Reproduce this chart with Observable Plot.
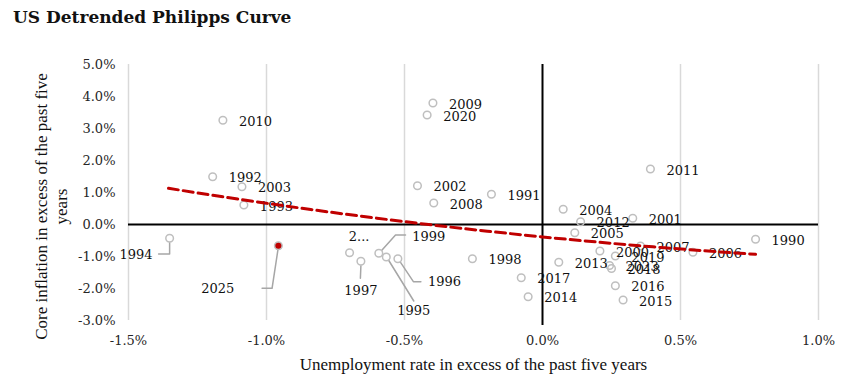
<!DOCTYPE html>
<html><head><meta charset="utf-8">
<script src="https://cdn.jsdelivr.net/npm/d3@7"></script>
<script src="https://cdn.jsdelivr.net/npm/@observablehq/plot@0.6"></script>
<style>
body{margin:0;background:#fff;}
#title{height:34px;font-family:"DejaVu Serif",serif;font-weight:bold;font-size:17px;line-height:34px;padding-left:13px;color:#111;white-space:nowrap;}
</style></head><body>
<div id="title">US Detrended Philipps Curve</div>
<div id="chart"></div>
<script>
// Data
const years = ["1990","1991","1992","1993","1994","1995","1996","1997","1998","1999",
  "2000","2001","2002","2003","2004","2005","2006","2007","2008","2009",
  "2010","2011","2012","2013","2014","2015","2016","2017","2018","2019",
  "2020","2023","2...","2025"];
const unemp = [0.772,-0.185,-1.195,-1.082,-1.351,-0.566,-0.524,-0.658,-0.254,-0.593,
  0.208,0.327,-0.453,-1.089,0.075,0.117,0.545,0.355,-0.394,-0.397,
  -1.158,0.391,0.138,0.059,-0.052,0.292,0.264,-0.077,0.250,0.264,
  -0.418,0.243,-0.699,-0.957];
const infl = [-0.463,0.944,1.494,0.609,-0.431,-1.016,-1.069,-1.150,-1.069,-0.900,
  -0.828,0.194,1.213,1.181,0.475,-0.256,-0.869,-0.672,0.672,3.797,
  3.256,1.734,0.088,-1.181,-2.256,-2.359,-1.913,-1.663,-1.375,-0.984,
  3.422,-1.281,-0.881,-0.663];
const highlight = "2025";
const trendX = [-1.355,-1.2,-1.0,-0.8,-0.6,-0.4,-0.2,0,0.2,0.4,0.6,0.772];
const trendY = [1.131,0.921,0.664,0.422,0.197,-0.014,-0.208,-0.387,-0.550,-0.698,-0.830,-0.931];
const xTicks = [-1.5,-1.0,-0.5,0,0.5,1.0];
const yTicks = [-3,-2,-1,0,1,2,3,4,5];
const xDomain = [-1.5, 1.0];
const yDomain = [-3, 5];

// Layout (pixel offsets of labels / leader lines relative to their point)
const W = 853, H = 351, mL = 128, mR = 35, mT = 30, mB = 65;
const kx = (W - mL - mR) / (xDomain[1] - xDomain[0]);
const ky = (H - mT - mB) / (yDomain[1] - yDomain[0]);
const defaultOffset = [16, 1.5];
const special = {
  "1994": {off: [-17, 16.7], anchor: "end", path: [[0, 4.5], [0, 15.7], [-11, 15.7]]},
  "2025": {off: [-44, 43.6], anchor: "end", path: [[-0.5, 4.5], [-6.3, 42.6], [-16.3, 42.6]]},
  "1997": {off: [0, 30], anchor: "middle", path: [[0, 4.5], [-0.5, 17]]},
  "1999": {off: [33.4, -16.6], anchor: "start", path: [[3, -3], [16.7, -18.3], [26.7, -18.3]]},
  "1995": {off: [27.5, 54], anchor: "middle", path: [[2.5, 3.5], [27.5, 44]]},
  "1996": {off: [30, 23], anchor: "start", path: [[2.5, 3.5], [15.5, 23], [23, 23]]},
  "2...": {off: [9.5, -15.7], anchor: "middle", path: []}
};

const pts = years.map((t, i) => ({t, x: unemp[i], y: infl[i]}));
const trend = trendX.map((x, i) => ({x, y: trendY[i]}));
const toData = (p, [dx, dy]) => ({x: p.x + dx / kx, y: p.y - dy / ky});

const labelRows = pts.map(p => {
  const s = special[p.t];
  const q = toData(p, s ? s.off : defaultOffset);
  return {t: p.t, x: q.x, y: q.y, anchor: s ? s.anchor : "start"};
});
const leaders = [];
pts.forEach(p => {
  const s = special[p.t];
  if (s) s.path.forEach(o => { const q = toData(p, o); leaders.push({t: p.t, x: q.x, y: q.y}); });
});

const fmt = d => d.toFixed(1) + "%";
const serif = "'DejaVu Serif', serif";
const serif2 = "'Liberation Serif', serif";

const chart = Plot.plot({
  width: W, height: H,
  marginLeft: mL, marginRight: mR, marginTop: mT, marginBottom: mB,
  style: {fontFamily: serif, fontSize: "13px", background: "#fff", color: "#1a1a1a", overflow: "visible"},
  x: {domain: xDomain},
  y: {domain: yDomain},
  marks: [
    Plot.ruleX(xTicks.filter(d => d !== 0), {stroke: "#d9d9d9", strokeWidth: 1.5}),
    Plot.ruleY([0], {stroke: "#000", strokeWidth: 2}),
    Plot.ruleX([0], {stroke: "#000", strokeWidth: 2, insetBottom: -5}),
    Plot.line(leaders, {x: "x", y: "y", z: "t", stroke: "#a6a6a6", strokeWidth: 1.5}),
    Plot.dot(pts.filter(p => p.t !== highlight), {x: "x", y: "y", r: 3.8, stroke: "#bfbfbf", strokeWidth: 1.5, fill: "none"}),
    Plot.dot(pts.filter(p => p.t === highlight), {x: "x", y: "y", r: 3.8, stroke: "#bfbfbf", strokeWidth: 1.5, fill: "#c00000"}),
    ...["start", "middle", "end"].map(a =>
      Plot.text(labelRows.filter(d => d.anchor === a), {x: "x", y: "y", text: "t", textAnchor: a, fill: "#111", fontSize: 13})
    ),
    Plot.line(trend, {x: "x", y: "y", stroke: "#c00000", strokeWidth: 3, strokeDasharray: "10,5", curve: "natural"}),
    Plot.axisX({ticks: xTicks, tickFormat: fmt, tickSize: 0, tickPadding: 15, label: null, fontSize: 13, fill: "#262626"}),
    Plot.axisY({ticks: yTicks, tickFormat: fmt, tickSize: 0, tickPadding: 13, label: null, fontSize: 13, fill: "#262626"}),
    Plot.text(["Unemployment rate in excess of the past five years"], {frameAnchor: "bottom", dy: 49, textAnchor: "middle", fontFamily: serif2, fontSize: 17, fill: "#111"}),
    Plot.text(["Core inflation in excess of the past five\nyears"], {frameAnchor: "left", textAnchor: "middle", dx: -78, dy: 14, rotate: -90, fontFamily: serif2, fontSize: 17, fill: "#111", lineHeight: 1.2})
  ]
});
document.getElementById("chart").appendChild(chart);
</script>
</body></html>
